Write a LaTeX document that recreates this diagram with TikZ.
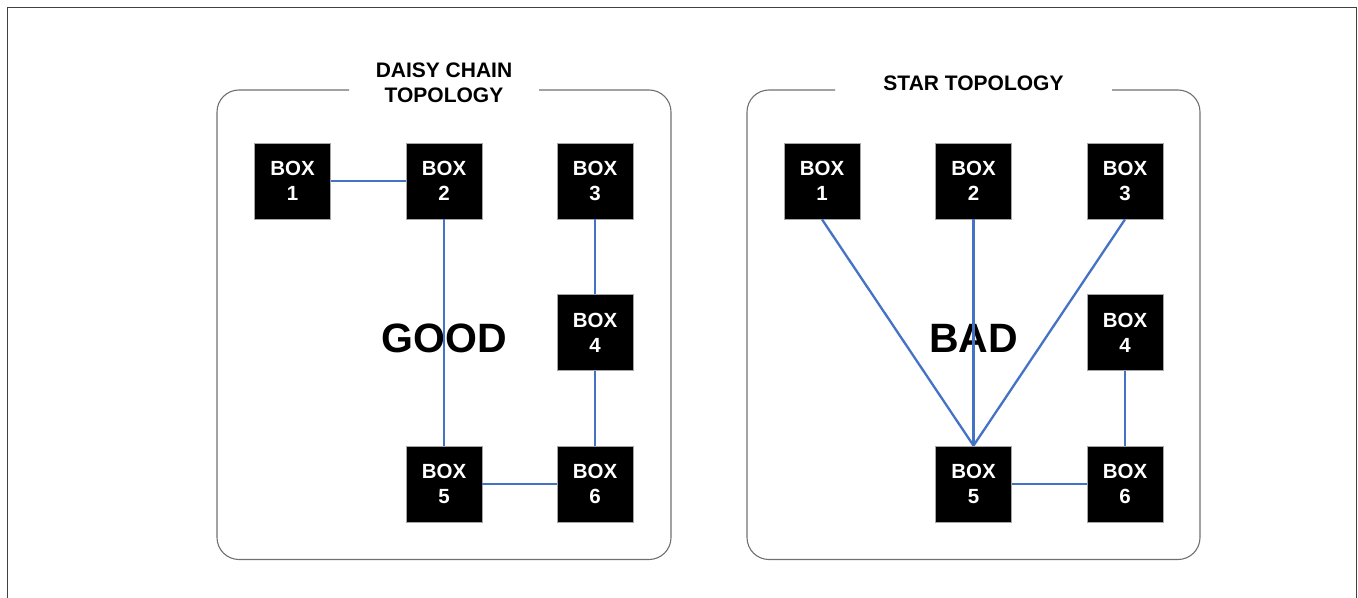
\documentclass[tikz,border=0pt]{standalone}
\usepackage{fontspec}
\setmainfont{Liberation Sans}
\definecolor{linkblue}{HTML}{4472C4}
\definecolor{framegray}{HTML}{404040}
\definecolor{panelgray}{HTML}{707070}
\tikzset{
  boxnode/.style={draw=gray!70, line width=0.8bp, fill=black, text=white,
    minimum width=76bp, minimum height=76bp, inner sep=0pt, align=center,
    font=\fontsize{20.5bp}{25bp}\selectfont\bfseries},
  titlenode/.style={align=center, inner sep=0pt,
    font=\fontsize{21bp}{25.5bp}\selectfont\bfseries},
  verdict/.style={inner sep=0pt, font=\fontsize{41bp}{45bp}\selectfont\bfseries},
  link/.style={draw=linkblue, line width=2.3bp},
  panel/.style={draw=panelgray, line width=1.1bp, rounded corners=22bp},
}
\begin{document}
\begin{tikzpicture}[x=1bp,y=-1bp]
\useasboundingbox (0,0) rectangle (1358,598);
% outer frame
\draw[framegray, line width=1.8bp] (7.5,598) -- (7.5,7.5) -- (1356.5,7.5) -- (1356.5,598);
% panels
\draw[panel] (349,90) -- (217,90) -- (217,559.5) -- (671,559.5) -- (671,90) -- (539,90);
\draw[panel] (835,90) -- (747,90) -- (747,559.5) -- (1200,559.5) -- (1200,90) -- (1112,90);
% titles
\node[titlenode] (t1) at (444,83) {DAISY CHAIN\\TOPOLOGY};
\node[titlenode] (t2) at (973.5,83.5) {STAR TOPOLOGY};
\node[verdict] (good) at (444,338) {GOOD};
\node[verdict] (bad) at (973.5,338) {BAD};
% left boxes
\node[boxnode] (a1) at (292.5,181) {BOX\\1};
\node[boxnode] (a2) at (444,181) {BOX\\2};
\node[boxnode] (a3) at (595,181) {BOX\\3};
\node[boxnode] (a4) at (595,332.5) {BOX\\4};
\node[boxnode] (a5) at (444,484) {BOX\\5};
\node[boxnode] (a6) at (595,484) {BOX\\6};
% right boxes
\node[boxnode] (b1) at (822,181) {BOX\\1};
\node[boxnode] (b2) at (973.5,181) {BOX\\2};
\node[boxnode] (b3) at (1125,181) {BOX\\3};
\node[boxnode] (b4) at (1125,332.5) {BOX\\4};
\node[boxnode] (b5) at (973.5,484) {BOX\\5};
\node[boxnode] (b6) at (1125,484) {BOX\\6};
% daisy chain links
\draw[link] (a1.east) -- (a2.west);
\draw[link] (a2.south) -- (a5.north);
\draw[link] (a3.south) -- (a4.north);
\draw[link] (a4.south) -- (a6.north);
\draw[link] (a5.east) -- (a6.west);
% star links
\draw[link] (b1.south) -- (b5.north);
\draw[link] (b2.south) -- (b5.north);
\draw[link] (b3.south) -- (b5.north);
\draw[link] (b4.south) -- (b6.north);
\draw[link] (b5.east) -- (b6.west);
\end{tikzpicture}
\end{document}
